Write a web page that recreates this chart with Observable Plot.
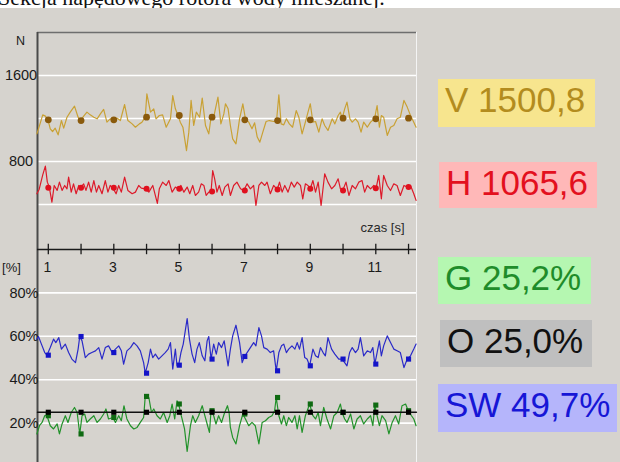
<!DOCTYPE html>
<html><head><meta charset="utf-8">
<script src="https://cdn.jsdelivr.net/npm/d3@7"></script>
<script src="https://cdn.jsdelivr.net/npm/@observablehq/plot@0.6"></script>
<style>
html,body{margin:0;padding:0;background:#fff;}
#root{position:relative;width:620px;height:462px;overflow:hidden;font-family:"Liberation Sans",Arial,sans-serif;}
#title{position:absolute;left:-2px;top:-13px;font-family:"Liberation Serif","Times New Roman",serif;font-size:22px;line-height:22px;color:#111;white-space:nowrap;}
#panel{position:absolute;left:0;top:8px;width:620px;height:454px;background:#d6d3ce;}
.pl{position:absolute;left:0;}
.lab{position:absolute;font-size:35px;line-height:42px;padding-left:7px;box-sizing:border-box;white-space:nowrap;}
</style></head>
<body>
<div id="root">
  <div id="title">Sekcja napędowego rotora wody mieszanej.</div>
  <div id="panel"></div>
  <div id="top" class="pl" style="top:0"></div>
  <div id="bot" class="pl" style="top:232px"></div>
  <div id="labels"></div>
</div>
<script>
// ---- data ----
const V = [[0.65,1057],[0.70,1104],[0.83,1234],[0.91,1222],[0.99,1188],[1.06,1104],[1.13,1079],[1.21,1110],[1.30,1048],[1.40,1181],[1.47,1110],[1.57,1212],[1.67,1259],[1.80,1315],[1.91,1212],[1.98,1181],[2.08,1222],[2.18,1259],[2.28,1234],[2.39,1212],[2.49,1197],[2.59,1243],[2.69,1284],[2.79,1166],[2.89,1197],[2.97,1185],[3.10,1203],[3.20,1181],[3.33,1330],[3.43,1181],[3.56,1150],[3.66,1119],[3.78,1150],[3.86,1166],[3.96,1212],[4.01,1430],[4.12,1259],[4.22,1290],[4.29,1197],[4.39,1228],[4.49,1234],[4.60,1119],[4.73,1197],[4.80,1414],[4.88,1290],[4.96,1228],[5.03,1166],[5.11,1119],[5.22,902],[5.29,1073],[5.36,1368],[5.44,1135],[5.52,1259],[5.62,1212],[5.70,1389],[5.80,1135],[5.90,1057],[5.97,1212],[6.05,1212],[6.18,1399],[6.27,1150],[6.36,1243],[6.41,1337],[6.49,1290],[6.56,1135],[6.63,1011],[6.73,964],[6.84,1197],[6.94,1337],[7.02,1197],[7.12,1166],[7.22,1104],[7.30,1160],[7.38,1027],[7.46,980],[7.55,1073],[7.65,1172],[7.75,1181],[7.88,1172],[7.97,1181],[8.04,1420],[8.11,1150],[8.19,1141],[8.27,1197],[8.36,1150],[8.46,1119],[8.57,1274],[8.65,1212],[8.75,1057],[8.85,1166],[8.93,1259],[9.00,1337],[9.08,1166],[9.16,1172],[9.26,1073],[9.36,1197],[9.44,1135],[9.54,1089],[9.67,1197],[9.75,1150],[9.85,1228],[9.92,1259],[9.97,1197],[10.05,1290],[10.12,1352],[10.21,1197],[10.28,1166],[10.38,1197],[10.46,1166],[10.55,1073],[10.63,1166],[10.74,1119],[10.84,1166],[10.96,1197],[11.04,1321],[11.11,1119],[11.17,1228],[11.24,1212],[11.35,1042],[11.45,1119],[11.55,1135],[11.65,1197],[11.75,1212],[11.86,1368],[11.96,1306],[12.06,1228],[12.16,1166],[12.23,1119]];
const H = [[0.65,500],[0.72,540],[0.83,676],[0.91,757],[0.97,608],[1.03,562],[1.11,422],[1.18,577],[1.27,531],[1.34,608],[1.42,531],[1.50,577],[1.57,546],[1.62,654],[1.70,515],[1.77,592],[1.85,500],[1.93,577],[1.98,555],[2.08,592],[2.15,531],[2.23,608],[2.31,515],[2.39,623],[2.47,515],[2.54,577],[2.64,500],[2.74,623],[2.82,515],[2.89,577],[2.97,555],[3.07,500],[3.15,577],[3.23,515],[3.33,654],[3.43,531],[3.56,500],[3.66,515],[3.76,577],[3.84,552],[3.96,546],[4.07,515],[4.19,577],[4.33,410],[4.39,546],[4.49,608],[4.60,577],[4.68,623],[4.78,515],[4.88,562],[4.96,546],[5.05,577],[5.14,515],[5.24,562],[5.32,500],[5.41,577],[5.49,484],[5.59,515],[5.67,592],[5.75,577],[5.82,484],[5.90,515],[5.97,521],[6.02,716],[6.08,639],[6.15,515],[6.22,577],[6.31,484],[6.39,562],[6.49,592],[6.56,484],[6.66,577],[6.76,608],[6.87,546],[6.97,530],[7.07,592],[7.17,546],[7.27,577],[7.34,391],[7.43,577],[7.51,608],[7.61,577],[7.68,608],[7.78,500],[7.88,577],[7.99,540],[8.06,608],[8.14,515],[8.22,577],[8.32,515],[8.42,608],[8.51,562],[8.60,608],[8.70,577],[8.77,453],[8.85,592],[8.93,577],[9.00,546],[9.08,623],[9.16,515],[9.24,608],[9.33,391],[9.44,686],[9.54,608],[9.65,546],[9.75,577],[9.85,639],[9.92,546],[9.99,530],[10.09,608],[10.18,484],[10.28,577],[10.38,546],[10.48,608],[10.58,623],[10.66,515],[10.74,577],[10.84,546],[10.94,577],[11.01,552],[11.09,670],[11.17,453],[11.24,670],[11.35,577],[11.45,530],[11.55,592],[11.65,577],[11.75,484],[11.86,577],[11.96,562],[12.06,577],[12.16,500],[12.23,438]];
const SW = [[0.65,58.7],[0.70,59.9],[0.79,56.4],[0.89,52.5],[0.96,51.3],[1.06,54.8],[1.16,58.7],[1.23,57.1],[1.32,59.4],[1.40,54.1],[1.52,56.4],[1.62,52.5],[1.72,49.5],[1.83,47.9],[1.91,54.1],[1.96,59.9],[2.03,57.9],[2.13,50.2],[2.23,51.8],[2.33,52.5],[2.44,53.3],[2.54,54.8],[2.64,49.5],[2.74,54.8],[2.84,55.6],[2.95,52.5],[3.05,54.1],[3.15,55.6],[3.23,53.3],[3.30,47.2],[3.40,53.3],[3.51,54.8],[3.61,57.1],[3.71,55.6],[3.81,53.3],[3.91,47.9],[3.96,43.0],[4.05,47.9],[4.12,54.1],[4.19,50.2],[4.27,51.8],[4.37,49.5],[4.47,51.0],[4.57,52.5],[4.66,54.1],[4.73,57.1],[4.80,44.9],[4.88,54.1],[4.93,46.4],[4.98,46.7],[5.05,52.5],[5.12,56.4],[5.19,63.3],[5.24,68.2],[5.31,58.7],[5.39,51.8],[5.47,47.9],[5.54,54.1],[5.61,57.1],[5.70,51.0],[5.78,48.7],[5.85,57.9],[5.90,59.9],[5.97,49.5],[6.05,56.4],[6.13,51.8],[6.20,57.1],[6.29,54.8],[6.37,57.9],[6.49,46.4],[6.56,54.1],[6.63,60.2],[6.73,65.1],[6.84,57.1],[6.92,47.9],[6.99,50.7],[7.07,52.5],[7.17,54.8],[7.27,57.1],[7.34,55.6],[7.43,64.0],[7.51,60.2],[7.58,54.8],[7.68,54.1],[7.78,52.5],[7.88,53.3],[7.96,44.1],[8.04,52.5],[8.12,55.6],[8.19,56.4],[8.27,52.5],[8.34,54.1],[8.44,55.6],[8.53,54.1],[8.60,57.1],[8.67,54.1],[8.75,59.4],[8.83,50.2],[8.90,49.5],[8.98,46.4],[9.08,54.1],[9.16,51.0],[9.24,50.2],[9.31,54.8],[9.39,52.5],[9.46,51.0],[9.54,59.4],[9.65,54.1],[9.75,51.8],[9.87,49.5],[9.97,49.5],[10.05,47.9],[10.12,46.4],[10.20,52.5],[10.28,54.8],[10.38,52.5],[10.46,54.1],[10.53,59.4],[10.63,51.0],[10.74,53.3],[10.84,52.5],[10.91,54.8],[10.97,47.2],[11.04,52.5],[11.11,57.9],[11.17,51.0],[11.24,55.6],[11.35,60.2],[11.45,57.1],[11.55,54.1],[11.65,53.3],[11.75,52.5],[11.86,45.6],[11.96,49.5],[12.06,51.0],[12.16,54.1],[12.23,56.4]];
const G = [[0.65,15.0],[0.73,18.8],[0.81,20.3],[0.89,23.4],[0.96,23.4],[1.06,18.8],[1.16,17.3],[1.27,19.6],[1.34,15.0],[1.42,19.6],[1.52,23.4],[1.60,20.3],[1.70,24.9],[1.80,27.2],[1.88,24.9],[1.96,15.0],[2.03,23.4],[2.11,24.2],[2.18,20.3],[2.28,21.9],[2.39,23.4],[2.49,20.3],[2.59,21.9],[2.69,24.2],[2.76,26.5],[2.84,21.9],[2.97,22.6],[3.05,20.3],[3.15,23.4],[3.23,21.1],[3.31,28.0],[3.40,21.9],[3.51,18.8],[3.61,17.3],[3.71,18.0],[3.81,20.3],[3.91,22.6],[3.96,32.3],[4.07,31.8],[4.15,24.9],[4.22,26.5],[4.32,23.4],[4.42,21.9],[4.52,24.9],[4.63,20.3],[4.71,23.4],[4.78,28.8],[4.86,21.9],[4.93,30.3],[4.98,28.8],[5.06,23.4],[5.16,17.3],[5.24,7.0],[5.34,18.8],[5.41,23.4],[5.49,20.3],[5.59,23.4],[5.70,28.0],[5.78,23.4],[5.85,19.6],[5.92,15.7],[5.97,25.7],[6.05,23.4],[6.12,19.6],[6.20,23.4],[6.29,20.3],[6.37,24.2],[6.47,28.0],[6.52,24.9],[6.56,18.0],[6.63,13.4],[6.73,10.4],[6.84,18.8],[6.94,24.2],[7.02,21.9],[7.12,18.8],[7.22,20.3],[7.32,18.8],[7.43,10.4],[7.53,20.3],[7.63,21.1],[7.73,22.6],[7.83,23.4],[7.91,25.7],[7.96,31.8],[8.04,23.4],[8.12,19.6],[8.19,23.4],[8.27,18.8],[8.34,22.6],[8.44,20.3],[8.53,23.4],[8.60,17.3],[8.67,23.4],[8.75,15.7],[8.85,23.4],[8.98,28.8],[9.08,23.4],[9.16,21.9],[9.24,24.9],[9.31,18.8],[9.41,27.2],[9.51,21.9],[9.62,17.3],[9.72,23.4],[9.82,24.9],[9.92,28.8],[9.97,24.9],[10.05,21.9],[10.12,20.3],[10.23,24.2],[10.33,17.3],[10.43,21.9],[10.53,23.4],[10.63,19.6],[10.74,21.9],[10.84,23.4],[10.91,18.8],[10.97,28.3],[11.04,23.4],[11.11,18.8],[11.19,23.4],[11.30,21.1],[11.40,15.0],[11.50,20.3],[11.60,23.4],[11.70,19.6],[11.80,28.0],[11.91,28.8],[11.99,25.7],[12.09,23.4],[12.16,21.9],[12.23,18.8]];
const O = [[0.67,25.0],[1,25.0],[2,25.0],[3,25.0],[4,25.0],[5,25.0],[6,25.0],[7,25.0],[8,25.0],[9,25.0],[10,25.0],[11,25.0],[12,25.0],[12.24,25.0]];

const Vmark = [[1,1188],[2,1181],[3,1188],[4,1212],[5,1228],[6,1212],[7,1188],[8,1181],[9,1188],[10,1203],[11,1197],[12,1203]];
const Hmark = [[1,555],[2,555],[3,555],[4,546],[5,546],[6,521],[7,530],[8,540],[9,546],[10,530],[11,552],[12,562]];
const SWmark = [[1,51.3],[2,59.9],[3,52.5],[4,43.0],[5,46.7],[6,49.5],[7,50.7],[8,44.1],[9,46.4],[10,49.5],[11,47.2],[12,49.5]];
const Gmark = [[1,23.4],[2,15.0],[3,22.6],[4,32.3],[5,28.8],[6,25.7],[7,24.2],[8,31.8],[9,28.8],[10,24.9],[11,28.3],[12,25.7]];
const Omark = [[1,25.0],[2,25.0],[3,25.0],[4,25.0],[5,25.0],[6,25.0],[7,25.0],[8,25.0],[9,25.0],[10,25.0],[11,25.0],[12,25.0]];

const timeTicks = [1,2,3,4,5,6,7,8,9,10,11,12];
const timeLabels = [1,3,5,7,9,11];
const forceGrid = [400,800,1200,1600];
const forceLabels = [1600,800];
const pctGrid = [20,40,60,80];
const pctLabels = ["80%","60%","40%","20%"];
const pctLabelValues = [80,60,40,20];

const readouts = [
  {text:"V 1500,8", bg:"#f7e58e", fg:"#b38c1e", left:438, top:79, w:157, h:48},
  {text:"H 1065,6", bg:"#ffb8b8", fg:"#e3101e", left:439, top:162, w:158, h:46},
  {text:"G 25,2%", bg:"#b5f7b1", fg:"#1f8c2a", left:438, top:257, w:153, h:47},
  {text:"O 25,0%", bg:"#bfbfbf", fg:"#111111", left:440, top:320, w:152, h:47},
  {text:"SW 49,7%", bg:"#b5b5fb", fg:"#1616d6", left:438, top:384, w:179, h:48}
];

// ---- drawing ----
const xDom = [0.67, 12.243];
const xs = {domain: xDom, range: [37, 416], axis: null};
const px = d => d[0], py = d => d[1];
const span = {x1: () => xDom[0], x2: () => xDom[1]};
const font = "Liberation Sans, Arial, sans-serif";
const axisC = "#4a4a4a";

const topPlot = Plot.plot({
  width: 620, height: 252,
  x: xs,
  y: {domain: [0, 2000], range: [247, 32], axis: null},
  style: {background: "transparent", fontFamily: font, overflow: "visible"},
  marks: [
    Plot.ruleY(forceGrid, {y: d => d, ...span, stroke: "white", strokeWidth: 1.6}),
    Plot.ruleY([2000], {y: d => d, ...span, stroke: "#6e6e6e", strokeWidth: 1.6}),
    Plot.ruleX([xDom[1]], {x: d => d, y1: 2000, y2: -20, stroke: "#f4f4f4", strokeWidth: 1}),
    Plot.ruleX([xDom[0]], {x: d => d, y1: 2000, y2: -20, stroke: axisC, strokeWidth: 2}),
    Plot.line(V, {x: px, y: py, stroke: "#c9a134", strokeWidth: 1.2}),
    Plot.dot(Vmark, {x: px, y: py, r: 3.4, fill: "#8a5a0c", stroke: "none"}),
    Plot.line(H, {x: px, y: py, stroke: "#dd1a2a", strokeWidth: 1.2}),
    Plot.dot(Hmark, {x: px, y: py, r: 3, fill: "#e0101e", stroke: "none"}),
    Plot.text(forceLabels, {x: () => xDom[0], y: d => d, text: d => String(d), dx: -16.5, textAnchor: "middle", fontSize: 14.5, fill: "#1a1a1a"}),
    Plot.text(["N"], {x: () => xDom[0], y: () => 2000, text: d => d, dx: -17, dy: 8, textAnchor: "middle", fontSize: 12.5, fill: "#1a1a1a"}),
    Plot.text(["czas [s]"], {x: () => xDom[1], y: () => 0, text: d => d, dx: -12, dy: -20, textAnchor: "end", fontSize: 13, fill: "#2a2a2a"})
  ]
});
document.getElementById("top").appendChild(topPlot);

const botPlot = Plot.plot({
  width: 620, height: 230,
  x: xs,
  y: {domain: [0, 100], range: [234, 17], axis: null},
  style: {background: "transparent", fontFamily: font, overflow: "visible"},
  marks: [
    Plot.ruleY(pctGrid, {y: d => d, ...span, stroke: "white", strokeWidth: 1.6}),
    Plot.ruleX([xDom[1]], {x: d => d, y1: 100, y2: -5, stroke: "#f4f4f4", strokeWidth: 1}),
    Plot.ruleX([xDom[0]], {x: d => d, y1: 100, y2: -5, stroke: axisC, strokeWidth: 2}),
    Plot.ruleY([100], {y: d => d, ...span, stroke: "#1a1a1a", strokeWidth: 1.5}),
    Plot.ruleX(timeTicks, {x: d => d, y1: 102.4, y2: 97.6, stroke: "#1a1a1a", strokeWidth: 1.3}),
    Plot.text(timeLabels, {x: d => d, y: () => 100, text: d => String(d), dx: -1, dy: 18, textAnchor: "middle", fontSize: 14, fill: "#1a1a1a"}),
    Plot.text(["[%]"], {x: () => xDom[0], y: () => 100, text: d => d, dx: -26, dy: 18, textAnchor: "middle", fontSize: 13, fill: "#1a1a1a"}),
    Plot.text(pctLabelValues, {x: () => xDom[0], y: d => d, text: (d, i) => pctLabels[i], dx: 1, textAnchor: "end", fontSize: 14.5, fill: "#1a1a1a"}),
    Plot.line(SW, {x: px, y: py, stroke: "#2a2ac8", strokeWidth: 1.2}),
    Plot.line(G, {x: px, y: py, stroke: "#22922a", strokeWidth: 1.2}),
    Plot.line(O, {x: px, y: py, stroke: "#111", strokeWidth: 1.5}),
    Plot.dot(Gmark, {x: px, y: py, r: 2.9, symbol: "square", fill: "#0f6a12", stroke: "none"}),
    Plot.dot(Omark, {x: px, y: py, r: 2.9, symbol: "square", fill: "#000", stroke: "none"}),
    Plot.dot(SWmark, {x: px, y: py, r: 2.9, symbol: "square", fill: "#1414c8", stroke: "none"})
  ]
});
document.getElementById("bot").appendChild(botPlot);

const lab = document.getElementById("labels");
for (const r of readouts) {
  const d = document.createElement("div");
  d.className = "lab";
  d.textContent = r.text;
  Object.assign(d.style, {left: r.left + "px", top: r.top + "px", width: r.w + "px", height: r.h + "px", background: r.bg, color: r.fg});
  lab.appendChild(d);
}
</script>
</body></html>
